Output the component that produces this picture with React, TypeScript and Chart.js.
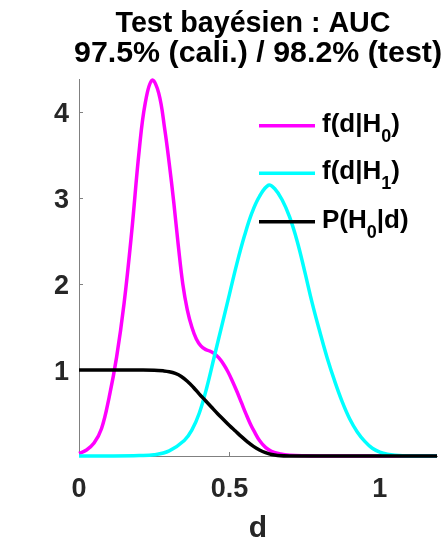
import React, { useEffect, useRef } from 'react';
import { Chart, registerables } from 'chart.js';

Chart.register(...registerables);

const titleLines = ['Test bayésien : AUC', '97.5% (cali.) / 98.2% (test)'];
const xAxisLabel = 'd';
const xMin = 0;
const xMax = 1.19;
const yMin = 0;
const yMax = 4.384;
const xStep = 0.5;
const yStep = 1;

// f(d|H0)
const h0D = [0, 0.025, 0.05, 0.075, 0.1, 0.125, 0.15, 0.175, 0.2, 0.22, 0.243, 0.265, 0.285, 0.3, 0.315, 0.33, 0.345, 0.36, 0.375, 0.39, 0.405, 0.42, 0.435, 0.45, 0.465, 0.48, 0.495, 0.51, 0.525, 0.54, 0.555, 0.57, 0.585, 0.6, 0.62, 0.64, 0.67, 0.7, 0.75, 0.8, 1.19];
const h0V = [0.03, 0.07, 0.15, 0.32, 0.68, 1.15, 1.78, 2.6, 3.55, 4.1, 4.37, 4.22, 3.8, 3.4, 2.95, 2.45, 2.0, 1.7, 1.5, 1.36, 1.28, 1.24, 1.22, 1.19, 1.14, 1.07, 0.98, 0.87, 0.75, 0.62, 0.49, 0.37, 0.27, 0.18, 0.1, 0.055, 0.025, 0.01, 0.002, 0, 0];

// f(d|H1)
const h1D = [0, 0.1, 0.2, 0.25, 0.3, 0.35, 0.375, 0.4, 0.425, 0.45, 0.475, 0.5, 0.525, 0.55, 0.575, 0.6, 0.63, 0.65, 0.675, 0.7, 0.725, 0.75, 0.775, 0.8, 0.825, 0.85, 0.875, 0.9, 0.925, 0.95, 0.975, 1.0, 1.025, 1.05, 1.1, 1.19];
const h1V = [0, 0, 0.005, 0.015, 0.06, 0.18, 0.3, 0.5, 0.8, 1.16, 1.52, 1.88, 2.24, 2.56, 2.83, 3.02, 3.15, 3.11, 2.98, 2.78, 2.5, 2.15, 1.78, 1.45, 1.14, 0.87, 0.63, 0.43, 0.28, 0.17, 0.09, 0.045, 0.02, 0.008, 0, 0];

// P(H0|d)
const pD = [0, 0.1, 0.2, 0.25, 0.28, 0.3, 0.32, 0.34, 0.36, 0.38, 0.4, 0.42, 0.44, 0.46, 0.48, 0.5, 0.52, 0.54, 0.56, 0.58, 0.6, 0.62, 0.64, 0.66, 0.7, 1.19];
const pV = [1, 1, 1, 0.998, 0.99, 0.98, 0.96, 0.925, 0.87, 0.8, 0.72, 0.645, 0.57, 0.495, 0.425, 0.355, 0.29, 0.225, 0.165, 0.112, 0.07, 0.038, 0.017, 0.006, 0, 0];

const seriesNames = [
  { main: 'f(d|H', sub: '0', tail: ')' },
  { main: 'f(d|H', sub: '1', tail: ')' },
  { main: 'P(H', sub: '0', tail: '|d)' },
];
const seriesColors = ['#ff00ff', '#00ffff', '#000000'];

const FONT = '"Liberation Sans", Arial, Helvetica, sans-serif';
const TEXT = '#262626';

const toPts = (xs: number[], ys: number[]) => xs.map((x, i) => ({ x, y: ys[i] }));

const fitText = (ctx: any, text: string, cx: number, y: number, width: number) => {
  const w = ctx.measureText(text).width;
  const k = width / w;
  ctx.save();
  ctx.translate(cx, y);
  ctx.scale(k, 1);
  ctx.textAlign = 'center';
  ctx.fillText(text, 0, 0);
  ctx.restore();
};

const overlay = {
  id: 'overlay',
  beforeDatasetsDraw(chart: any) {
    const { ctx, chartArea, scales } = chart;
    const xs = scales.x;
    const ys = scales.y;
    ctx.save();
    ctx.strokeStyle = '#808080';
    ctx.lineWidth = 1;
    ctx.beginPath();
    xs.ticks.forEach((t: any) => {
      const px = Math.round(xs.getPixelForValue(t.value)) + 0.5;
      ctx.moveTo(px, chartArea.bottom);
      ctx.lineTo(px, chartArea.bottom - 4);
    });
    ys.ticks.forEach((t: any) => {
      const py = Math.round(ys.getPixelForValue(t.value)) + 0.5;
      ctx.moveTo(chartArea.left, py);
      ctx.lineTo(chartArea.left + 4, py);
    });
    ctx.stroke();
    ctx.restore();
  },
  afterDraw(chart: any) {
    const { ctx, chartArea } = chart;
    const cx = (chartArea.left + chartArea.right) / 2;
    ctx.save();
    // Title
    ctx.fillStyle = '#000';
    ctx.textBaseline = 'alphabetic';
    ctx.font = `bold 29px ${FONT}`;
    fitText(ctx, titleLines[0], cx - 5, 32, 275);
    fitText(ctx, titleLines[1], cx, 62, 368);
    // x label
    ctx.fillStyle = TEXT;
    ctx.textAlign = 'center';
    ctx.font = `bold 30px ${FONT}`;
    ctx.fillText(xAxisLabel, cx, 537);
    // legend
    const lx0 = 259;
    const lx1 = 315;
    const tx = 322;
    const rows = [125.7, 173.3, 221.7];
    seriesNames.forEach((s, i) => {
      const y = rows[i];
      ctx.strokeStyle = seriesColors[i];
      ctx.lineWidth = 3.5;
      ctx.beginPath();
      ctx.moveTo(lx0, y);
      ctx.lineTo(lx1, y);
      ctx.stroke();
      ctx.fillStyle = '#000';
      ctx.textAlign = 'left';
      let x = tx;
      const base = y + 6;
      ctx.font = `bold 26px ${FONT}`;
      ctx.fillText(s.main, x, base);
      x += ctx.measureText(s.main).width;
      ctx.font = `bold 18px ${FONT}`;
      ctx.fillText(s.sub, x, base + 10);
      x += ctx.measureText(s.sub).width;
      ctx.font = `bold 26px ${FONT}`;
      ctx.fillText(s.tail, x, base);
    });
    ctx.restore();
  },
};

const lineDs = (label: string, pts: any[], color: string, order: number) => ({
  label,
  data: pts,
  borderColor: color,
  borderWidth: 3.5,
  pointRadius: 0,
  tension: 0.4,
  fill: false,
  clip: false as any,
  order,
});

export default function App() {
  const ref = useRef<HTMLCanvasElement>(null);
  useEffect(() => {
    if (!ref.current) return;
    const chart = new Chart(ref.current, {
      type: 'line',
      data: {
        datasets: [
          lineDs('f(d|H0)', toPts(h0D, h0V), seriesColors[0], 2),
          lineDs('f(d|H1)', toPts(h1D, h1V), seriesColors[1], 1),
          lineDs('P(H0|d)', toPts(pD, pV), seriesColors[2], 0),
        ],
      },
      options: {
        animation: false,
        responsive: false,
        devicePixelRatio: 1,
        layout: { padding: { top: 79, right: 9, left: 0, bottom: 0 } },
        plugins: { legend: { display: false }, title: { display: false }, tooltip: { enabled: false } },
        scales: {
          x: {
            type: 'linear',
            min: xMin,
            max: xMax,
            grid: { display: true, drawOnChartArea: false, drawTicks: false },
            border: { display: true, color: '#808080', width: 1 },
            ticks: {
              stepSize: xStep,
              includeBounds: false,
              padding: 17,
              color: TEXT,
              font: { family: FONT, size: 27, weight: 'bold' },
              maxRotation: 0,
              callback: (v: any) => String(Math.round(Number(v) * 100) / 100),
            },
            afterFit: (s: any) => {
              s.height = 83;
            },
          },
          y: {
            type: 'linear',
            min: yMin,
            max: yMax,
            grid: { display: true, drawOnChartArea: false, drawTicks: false },
            border: { display: true, color: '#808080', width: 1 },
            ticks: {
              stepSize: yStep,
              includeBounds: false,
              padding: 10,
              labelOffset: 3,
              color: TEXT,
              font: { family: FONT, size: 27, weight: 'bold' },
              callback: (v: any) => (Number(v) === 0 ? '' : String(v)),
            },
            afterFit: (s: any) => {
              s.width = 79;
            },
          },
        },
      },
      plugins: [overlay],
    } as any);
    return () => chart.destroy();
  }, []);
  return (
    <div style={{ position: 'fixed', left: 0, top: 0, width: 446, height: 539, background: '#fff' }}>
      <canvas ref={ref} width={446} height={539} style={{ display: 'block', width: 446, height: 539 }} />
    </div>
  );
}
